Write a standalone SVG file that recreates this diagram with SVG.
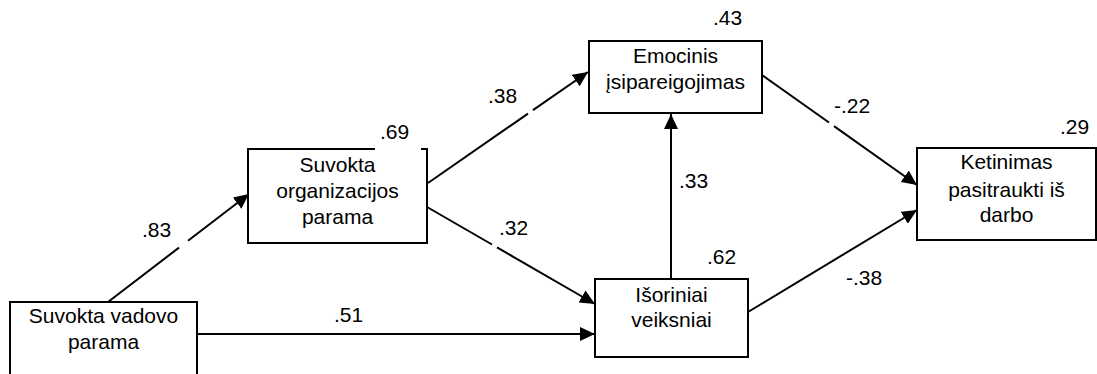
<svg xmlns="http://www.w3.org/2000/svg" width="1097" height="374" viewBox="0 0 1097 374">
  <style>
    .box { fill: #ffffff; stroke: #000000; stroke-width: 2; }
    .lbl { font-family: "Liberation Sans", Arial, sans-serif; font-size: 21px; fill: #000000; }
    .ctr { text-anchor: middle; }
    .conn { fill: none; stroke: #000000; stroke-width: 2; marker-end: url(#arrow); }
  </style>
  <defs>
    <marker id="arrow" markerUnits="userSpaceOnUse" markerWidth="16" markerHeight="15" refX="15" refY="7" orient="auto">
      <path d="M0,0 L15,7 L0,14 Z" fill="#000000"/>
    </marker>
  </defs>
  <rect x="0" y="0" width="1097" height="374" fill="#ffffff"/>

  <g id="connectors">
    <path class="conn" d="M108,302 L179,247.6 M188,240.7 L249,194"/>
    <path class="conn" d="M197,334 L595,334"/>
    <path class="conn" d="M428,183 L528,113.6 M533,110.1 L588,72"/>
    <path class="conn" d="M427,207 L492,244.5 M497,247.4 L595,304"/>
    <path class="conn" d="M671,279 L671,114"/>
    <path class="conn" d="M762,75 L829,122.5 M834,126.1 L917,185"/>
    <path class="conn" d="M748,312 L917,210"/>
    <g class="lbl">
      <text x="142" y="237">.83</text>
      <text x="334" y="322">.51</text>
      <text x="488" y="103">.38</text>
      <text x="499" y="235">.32</text>
      <text x="679" y="188">.33</text>
      <text x="834" y="113">-.22</text>
      <text x="846" y="285">-.38</text>
    </g>
  </g>

  <g id="node-vadovo">
    <rect class="box" x="10" y="302" width="187" height="80"/>
    <text class="lbl ctr" x="103.5" y="323">Suvokta vadovo</text>
    <text class="lbl ctr" x="103.5" y="349">parama</text>
  </g>

  <g id="node-organizacijos">
    <rect class="box" x="248" y="149" width="179" height="94"/>
    <rect x="375" y="122" width="46" height="29" fill="#ffffff"/>
    <text class="lbl" x="380" y="139">.69</text>
    <text class="lbl ctr" x="337.5" y="172">Suvokta</text>
    <text class="lbl ctr" x="337.5" y="198">organizacijos</text>
    <text class="lbl ctr" x="337.5" y="224">parama</text>
  </g>

  <g id="node-emocinis">
    <rect class="box" x="589" y="41" width="173" height="72"/>
    <text class="lbl" x="713" y="25">.43</text>
    <text class="lbl ctr" x="675.5" y="63">Emocinis</text>
    <text class="lbl ctr" x="675.5" y="89">įsipareigojimas</text>
  </g>

  <g id="node-isoriniai">
    <rect class="box" x="595" y="279" width="153" height="78"/>
    <text class="lbl" x="707" y="264">.62</text>
    <text class="lbl ctr" x="671.5" y="302">Išoriniai</text>
    <text class="lbl ctr" x="671.5" y="327">veiksniai</text>
  </g>

  <g id="node-ketinimas">
    <rect class="box" x="917" y="148" width="179" height="92"/>
    <text class="lbl" x="1060" y="134">.29</text>
    <text class="lbl ctr" x="1006.5" y="169">Ketinimas</text>
    <text class="lbl ctr" x="1006.5" y="197">pasitraukti iš</text>
    <text class="lbl ctr" x="1006.5" y="222">darbo</text>
  </g>
</svg>
